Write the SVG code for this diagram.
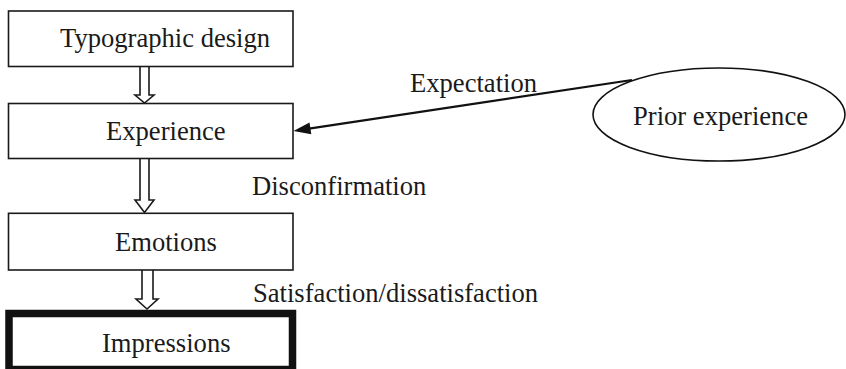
<svg xmlns="http://www.w3.org/2000/svg" width="846" height="369" viewBox="0 0 846 369">
<defs>
<style>
.box{fill:#fff;stroke:#1a1a1a;stroke-width:1.6}
.thick{fill:#fff;stroke:#111;stroke-width:7.5}
.t{font-family:"Liberation Serif","Times New Roman",serif;font-size:26.6px;fill:#1a1a1a}
.hollow{fill:#fff;stroke:#1a1a1a;stroke-width:1.6;stroke-linejoin:miter}
.ln{stroke:#111;stroke-width:2.2;fill:none}
</style>
<marker id="ah" markerWidth="10" markerHeight="8" refX="9" refY="4" orient="auto" markerUnits="userSpaceOnUse" viewBox="0 0 10 8">
<path d="M0,0 L10,4 L0,8 Z" fill="#111"/>
</marker>
</defs>
<rect width="846" height="369" fill="#fff"/>
<g id="connectors">
<path class="hollow" d="M140,67 L140,95 L135,95 L144.5,103 L154,95 L149,95 L149,67"/>
<path class="hollow" d="M140,158.5 L140,200 L135,200 L144.5,212.5 L154,200 L149,200 L149,158.5"/>
<path class="hollow" d="M142,270 L142,299 L136,299 L147,309 L158,299 L153,299 L153,270"/>
<line x1="632" y1="80" x2="309" y2="128.6" class="ln"/>
<path d="M293.5,131 L309.5,122.4 L311.3,134.3 Z" fill="#111"/>
<text class="t" x="410" y="92">Expectation</text>
<text class="t" x="252" y="195">Disconfirmation</text>
<text class="t" x="253" y="302">Satisfaction/dissatisfaction</text>
</g>
<g id="typographic-design">
<rect class="box" x="8.5" y="11" width="284.5" height="55.5"/>
<text class="t" x="60" y="47">Typographic design</text>
</g>
<g id="experience">
<rect class="box" x="8.5" y="103.5" width="284.5" height="55"/>
<text class="t" x="106" y="140">Experience</text>
</g>
<g id="emotions">
<rect class="box" x="8.5" y="213.3" width="284.5" height="56.7"/>
<text class="t" x="115" y="251">Emotions</text>
</g>
<g id="impressions">
<rect class="thick" x="9" y="313.5" width="283.5" height="56"/>
<text class="t" x="102" y="352">Impressions</text>
</g>
<g id="prior-experience">
<ellipse cx="719" cy="114.5" rx="126" ry="46.5" fill="#fff" stroke="#111" stroke-width="1.6"/>
<text class="t" x="633" y="125">Prior experience</text>
</g>
</svg>
